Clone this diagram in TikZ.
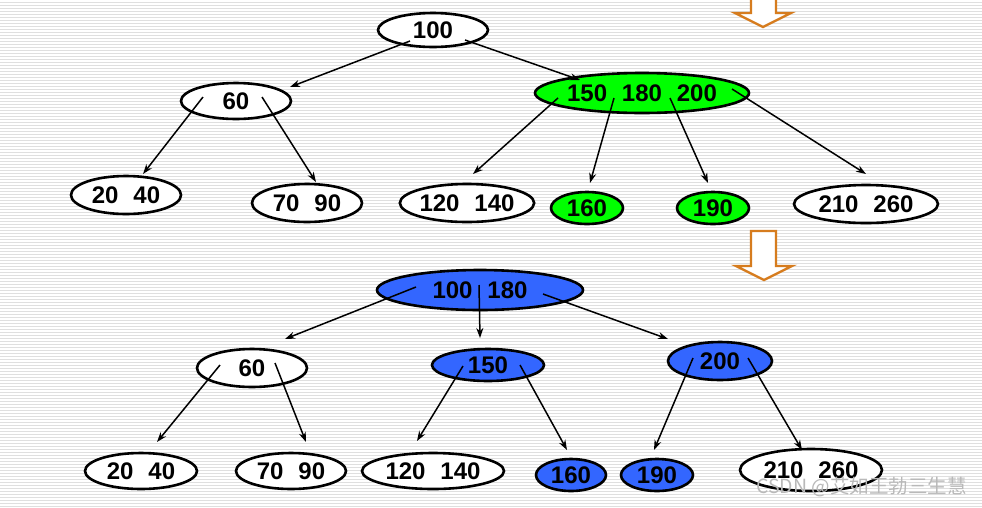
\documentclass[tikz,border=0pt]{standalone}
\usepackage{fontspec}
\setmainfont{Liberation Sans}
\newfontfamily\cjkfont{Noto Sans CJK SC}
\usetikzlibrary{shapes.geometric,calc,arrows.meta,patterns}
\definecolor{gfill}{RGB}{0,255,0}
\definecolor{bfill}{RGB}{51,102,255}
\definecolor{orng}{RGB}{214,124,30}
\newcommand\numgap{\hspace{0.62em}}
\begin{document}
\begin{tikzpicture}[x=1pt,y=-1pt,
  el/.style={ellipse, draw, line width=2.6pt, inner sep=0pt, fill=white,
    font=\fontsize{24}{24}\selectfont\bfseries},
  sz/.style 2 args={minimum width=#1pt, minimum height=#2pt},
  arr/.style={-{Stealth[length=10pt,width=7pt]}, line width=1.5pt},
  bigarrow/.style={draw=orng, line width=2.4pt, fill=white, line join=miter},
]
\useasboundingbox (0,0) rectangle (982,507);
\clip (0,0) rectangle (982,507);
\fill[white] (0,0) rectangle (982,507);
\fill[pattern=horizontal lines, pattern color=gray!25] (0,0) rectangle (982,507);

% ---------- top tree ----------
\node[el, sz={110}{34}] (a100) at (433,30) {100};
\node[el, sz={110}{36}] (a60) at (236,101) {60};
\node[el, sz={214}{40}, fill=gfill] (ag) at (642,93) {150\numgap180\numgap200};
\node[el, sz={110}{38}] (a2040) at (126,195) {20\numgap40};
\node[el, sz={110}{38}] (a7090) at (307,203) {70\numgap90};
\node[el, sz={132}{38}] (a120) at (467,203) {120\numgap140};
\node[el, sz={72}{32}, fill=gfill] (a160) at (587,208) {160};
\node[el, sz={72}{32}, fill=gfill] (a190) at (713,208) {190};
\node[el, sz={144}{38}] (a210) at (866,204) {210\numgap260};

\draw[arr] ($(a100)+(-23,11)$) -- ($(a60)+(54,-14)$);
\draw[arr] ($(a100)+(32,10)$) -- ($(ag)+(-62,-13)$);
\draw[arr] ($(a60)+(-33,-4)$) -- ($(a2040)+(17,-21)$);
\draw[arr] ($(a60)+(26,-4)$) -- ($(a7090)+(9,-21)$);
\draw[arr] ($(ag)+(-84,5)$) -- ($(a120)+(6,-29)$);
\draw[arr] ($(ag)+(-28,5)$) -- ($(a160)+(3,-25)$);
\draw[arr] ($(ag)+(28,5)$) -- ($(a190)+(-5,-25)$);
\draw[arr] ($(ag)+(90,-4)$) -- ($(a210)+(0,-30)$);

% ---------- orange arrows ----------
\draw[bigarrow] (751,-10) -- (751,13) -- (735,13) -- (763,27) -- (791,13) -- (776,13) -- (776,-10);
\draw[bigarrow] (751,231) -- (751,266) -- (736,266) -- (764,280) -- (792,266) -- (776,266) -- (776,231) -- cycle;

% ---------- bottom tree ----------
\node[el, sz={206}{40}, fill=bfill] (b) at (480,290) {100\numgap180};
\node[el, sz={110}{38}] (b60) at (252,368) {60};
\node[el, sz={112}{32}, fill=bfill] (b150) at (488,365) {150};
\node[el, sz={104}{38}, fill=bfill] (b200) at (720,361) {200};
\node[el, sz={112}{36}] (b2040) at (141,471) {20\numgap40};
\node[el, sz={110}{36}] (b7090) at (291,471) {70\numgap90};
\node[el, sz={142}{36}] (b120) at (433,471) {120\numgap140};
\node[el, sz={70}{32}, fill=bfill] (b160) at (571,475) {160};
\node[el, sz={72}{32}, fill=bfill] (b190) at (657,475) {190};
\node[el, sz={142}{42}] (b210) at (811,470) {210\numgap260};

\draw[arr] ($(b)+(-64,-3)$) -- ($(b60)+(33,-29)$);
\draw[arr] ($(b)+(-1,-5)$) -- ($(b150)+(-8,-27)$);
\draw[arr] ($(b)+(63,4)$) -- ($(b200)+(-52,-22)$);
\draw[arr] ($(b60)+(-32,-3)$) -- ($(b2040)+(16,-29)$);
\draw[arr] ($(b60)+(23,-5)$) -- ($(b7090)+(15,-29)$);
\draw[arr] ($(b150)+(-25,1)$) -- ($(b120)+(-16,-30)$);
\draw[arr] ($(b150)+(32,0)$) -- ($(b160)+(-4,-25)$);
\draw[arr] ($(b200)+(-27,-3)$) -- ($(b190)+(-3,-25)$);
\draw[arr] ($(b200)+(28,-3)$) -- ($(b210)+(-9,-20)$);

% ---------- watermark ----------
\node[anchor=west, inner sep=0pt, text=gray!55, font=\cjkfont\fontsize{19.5}{19.5}\selectfont] (wm) at (756,487) {CSDN @艾如王勃三生慧};
\end{tikzpicture}
\end{document}
